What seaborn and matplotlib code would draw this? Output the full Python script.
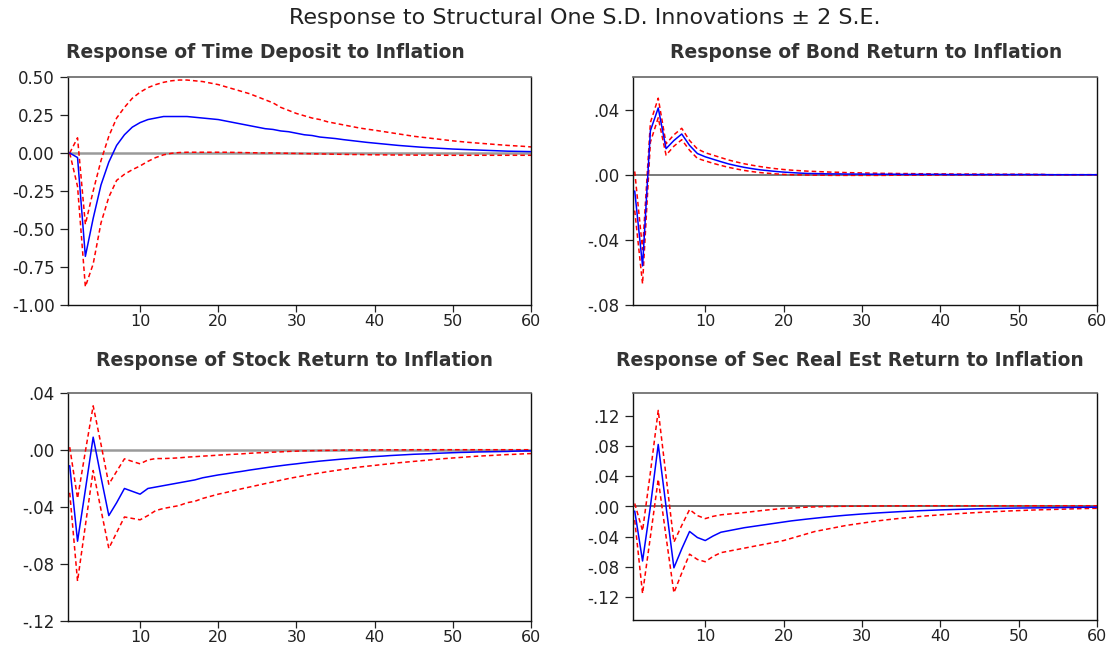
import numpy as np
import pandas as pd
import matplotlib
matplotlib.use("Agg")
import matplotlib.pyplot as plt
import seaborn as sns

periods = list(range(1, 61))

# Response of Time Deposit to Inflation
td_resp = [0.00, -0.03, -0.68, -0.43, -0.21, -0.06, 0.05, 0.12, 0.17, 0.20,
           0.22, 0.23, 0.24, 0.24, 0.24, 0.24, 0.235, 0.23, 0.225, 0.22,
           0.21, 0.20, 0.19, 0.18, 0.17, 0.16, 0.155, 0.145, 0.14, 0.13,
           0.12, 0.115, 0.105, 0.10, 0.095, 0.088, 0.082, 0.076, 0.07, 0.065,
           0.06, 0.055, 0.05, 0.046, 0.042, 0.038, 0.035, 0.032, 0.029, 0.026,
           0.024, 0.022, 0.02, 0.018, 0.016, 0.014, 0.012, 0.011, 0.01, 0.009]
td_upper = [0.00, 0.10, -0.47, -0.25, -0.05, 0.11, 0.23, 0.30, 0.36, 0.40,
            0.43, 0.45, 0.465, 0.475, 0.48, 0.48, 0.475, 0.47, 0.46, 0.45,
            0.435, 0.42, 0.405, 0.39, 0.37, 0.35, 0.33, 0.30, 0.28, 0.26,
            0.245, 0.23, 0.22, 0.205, 0.195, 0.185, 0.175, 0.165, 0.157, 0.15,
            0.142, 0.134, 0.126, 0.118, 0.11, 0.104, 0.098, 0.092, 0.086, 0.08,
            0.075, 0.07, 0.066, 0.062, 0.058, 0.054, 0.05, 0.047, 0.044, 0.04]
td_lower = [0.00, -0.22, -0.88, -0.73, -0.46, -0.29, -0.18, -0.14, -0.11, -0.085,
            -0.055, -0.03, -0.012, -0.002, 0.003, 0.005, 0.005, 0.005, 0.005, 0.005,
            0.005, 0.004, 0.003, 0.002, 0.001, 0.0, 0.0, -0.001, -0.002, -0.003,
            -0.004, -0.005, -0.006, -0.007, -0.008, -0.009, -0.010, -0.010, -0.011, -0.012,
            -0.012, -0.013, -0.013, -0.013, -0.014, -0.014, -0.014, -0.014, -0.015, -0.015,
            -0.015, -0.015, -0.015, -0.015, -0.015, -0.015, -0.015, -0.015, -0.015, -0.015]

# Response of Bond Return to Inflation
bd_resp = [-0.010, -0.056, 0.027, 0.041, 0.016, 0.021, 0.025, 0.018, 0.013, 0.011,
           0.0095, 0.008, 0.0066, 0.0055, 0.0045, 0.0037, 0.003, 0.0025, 0.002, 0.0016,
           0.0013, 0.001, 0.0008, 0.0007, 0.0006, 0.0005, 0.0005, 0.0004, 0.0004, 0.0004,
           0.0003, 0.0003, 0.0003, 0.0003, 0.0002, 0.0002, 0.0002, 0.0002, 0.0002, 0.0002,
           0.0001, 0.0001, 0.0001, 0.0001, 0.0001, 0.0001, 0.0001, 0.0001, 0.0001, 0.0001,
           0.0001, 0.0001, 0.0001, 0.0, 0.0, 0.0, 0.0, 0.0, 0.0, 0.0]
bd_upper = [0.002, -0.046, 0.032, 0.047, 0.019, 0.0245, 0.0285, 0.021, 0.0158, 0.0135,
            0.012, 0.0105, 0.009, 0.0078, 0.0067, 0.0058, 0.005, 0.0043, 0.0037, 0.0032,
            0.0028, 0.0025, 0.0022, 0.002, 0.0018, 0.0016, 0.0015, 0.0013, 0.0012, 0.0011,
            0.001, 0.0009, 0.0008, 0.0008, 0.0007, 0.0007, 0.0006, 0.0006, 0.0005, 0.0005,
            0.0005, 0.0004, 0.0004, 0.0004, 0.0004, 0.0003, 0.0003, 0.0003, 0.0003, 0.0003,
            0.0003, 0.0002, 0.0002, 0.0, 0.0, 0.0, 0.0, 0.0, 0.0, 0.0]
bd_lower = [-0.022, -0.067, 0.020, 0.035, 0.012, 0.0175, 0.0215, 0.015, 0.010, 0.0085,
            0.007, 0.0057, 0.0045, 0.0035, 0.0026, 0.0019, 0.0013, 0.0009, 0.0005, 0.0002,
            0.0, -0.0001, -0.0002, -0.0003, -0.0003, -0.0004, -0.0004, -0.0004, -0.0004, -0.0004,
            -0.0004, -0.0004, -0.0004, -0.0003, -0.0003, -0.0003, -0.0003, -0.0003, -0.0003, -0.0002,
            -0.0002, -0.0002, -0.0002, -0.0002, -0.0002, -0.0002, -0.0001, -0.0001, -0.0001, -0.0001,
            -0.0001, -0.0001, -0.0001, 0.0, 0.0, 0.0, 0.0, 0.0, 0.0, 0.0]

# Response of Stock Return to Inflation
st_resp = [-0.011, -0.064, -0.028, 0.009, -0.019, -0.046, -0.037, -0.027, -0.029, -0.031,
           -0.027, -0.026, -0.025, -0.024, -0.023, -0.022, -0.021, -0.0195, -0.0185, -0.0175,
           -0.0167, -0.0158, -0.015, -0.0141, -0.0133, -0.0125, -0.0117, -0.011, -0.0103, -0.0097,
           -0.009, -0.0084, -0.0078, -0.0073, -0.0068, -0.0063, -0.0059, -0.0054, -0.005, -0.0046,
           -0.0043, -0.0039, -0.0036, -0.0033, -0.003, -0.0028, -0.0026, -0.0023, -0.0021, -0.0019,
           -0.0017, -0.0016, -0.0014, -0.0013, -0.0012, -0.0011, -0.001, -0.0008, -0.0007, -0.0006]
st_upper = [0.002, -0.034, -0.001, 0.031, 0.004, -0.024, -0.015, -0.0062, -0.008, -0.0097,
            -0.007, -0.006, -0.006, -0.0058, -0.0055, -0.005, -0.0047, -0.0043, -0.004, -0.0036,
            -0.0033, -0.003, -0.0027, -0.0023, -0.002, -0.0018, -0.0015, -0.0013, -0.001, -0.0008,
            -0.0006, -0.0005, -0.0004, -0.0003, -0.0002, -0.0001, 0.0, 0.0, 0.0, 0.0,
            0.0001, 0.0001, 0.0001, 0.0001, 0.0002, 0.0002, 0.0002, 0.0002, 0.0002, 0.0002,
            0.0002, 0.0002, 0.0002, 0.0002, 0.0002, 0.0002, 0.0002, 0.0002, 0.0002, 0.0002]
st_lower = [-0.030, -0.092, -0.053, -0.0144, -0.042, -0.069, -0.058, -0.047, -0.048, -0.049,
            -0.046, -0.0425, -0.041, -0.040, -0.039, -0.037, -0.036, -0.034, -0.0325, -0.031,
            -0.0298, -0.0285, -0.0272, -0.026, -0.0248, -0.0236, -0.0224, -0.0212, -0.020, -0.019,
            -0.018, -0.017, -0.0161, -0.0152, -0.0144, -0.0136, -0.0128, -0.012, -0.0114, -0.0108,
            -0.0102, -0.0096, -0.009, -0.0085, -0.008, -0.0075, -0.007, -0.0065, -0.006, -0.0056,
            -0.0052, -0.0048, -0.0044, -0.0041, -0.0038, -0.0035, -0.0032, -0.003, -0.0027, -0.0025]

# Response of Sec Real Est Return to Inflation
re_resp = [-0.006, -0.072, 0.0, 0.082, 0.0, -0.081, -0.056, -0.033, -0.041, -0.045,
           -0.039, -0.034, -0.032, -0.030, -0.028, -0.0265, -0.025, -0.0235, -0.022, -0.0205,
           -0.019, -0.0178, -0.0166, -0.0155, -0.0144, -0.0134, -0.0124, -0.0115, -0.0107, -0.0099,
           -0.0092, -0.0085, -0.0079, -0.0073, -0.0067, -0.0062, -0.0057, -0.0053, -0.0049, -0.0045,
           -0.0042, -0.0039, -0.0036, -0.0033, -0.003, -0.0028, -0.0026, -0.0024, -0.0022, -0.002,
           -0.0019, -0.0018, -0.0017, -0.0016, -0.0015, -0.0013, -0.0012, -0.0011, -0.001, -0.0009]
re_upper = [0.004, -0.032, 0.045, 0.127, 0.040, -0.047, -0.025, -0.004, -0.012, -0.016,
            -0.013, -0.011, -0.010, -0.009, -0.008, -0.0068, -0.0056, -0.0045, -0.0035, -0.0026,
            -0.002, -0.0014, -0.0009, -0.0005, -0.0002, 0.0, 0.0002, 0.0003, 0.0004, 0.0005,
            0.0006, 0.0007, 0.0008, 0.0008, 0.0009, 0.0009, 0.001, 0.001, 0.001, 0.001,
            0.001, 0.001, 0.001, 0.001, 0.001, 0.001, 0.001, 0.001, 0.001, 0.001,
            0.001, 0.001, 0.001, 0.001, 0.001, 0.001, 0.001, 0.001, 0.001, 0.001]
re_lower = [-0.018, -0.115, -0.040, 0.036, -0.040, -0.114, -0.088, -0.063, -0.070, -0.073,
            -0.066, -0.061, -0.059, -0.057, -0.055, -0.053, -0.051, -0.049, -0.047, -0.045,
            -0.042, -0.039, -0.036, -0.033, -0.031, -0.029, -0.027, -0.025, -0.0235, -0.022,
            -0.0205, -0.019, -0.0178, -0.0166, -0.0155, -0.0145, -0.0135, -0.0126, -0.0118, -0.011,
            -0.0103, -0.0096, -0.009, -0.0084, -0.0078, -0.0073, -0.0068, -0.0063, -0.0058, -0.0054,
            -0.005, -0.0046, -0.0043, -0.004, -0.0037, -0.0034, -0.0031, -0.0028, -0.0026, -0.0024]

panel_titles = ["Response of Time Deposit to Inflation",
                "Response of Bond Return to Inflation",
                "Response of Stock Return to Inflation",
                "Response of Sec Real Est Return to Inflation"]
main_title = "Response to Structural One S.D. Innovations \u00b1 2 S.E."

x_ticks = [10, 20, 30, 40, 50, 60]
td_yticks = [0.50, 0.25, 0.00, -0.25, -0.50, -0.75, -1.00]
td_ylabels = ["0.50", "0.25", "0.00", "-0.25", "-0.50", "-0.75", "-1.00"]
bd_yticks = [0.04, 0.00, -0.04, -0.08]
bd_ylabels = [".04", ".00", "-.04", "-.08"]
st_yticks = [0.04, 0.00, -0.04, -0.08, -0.12]
st_ylabels = [".04", ".00", "-.04", "-.08", "-.12"]
re_yticks = [0.12, 0.08, 0.04, 0.00, -0.04, -0.08, -0.12]
re_ylabels = [".12", ".08", ".04", ".00", "-.04", "-.08", "-.12"]

sns.set_theme(style="ticks")
plt.rcParams['font.family'] = ['DejaVu Sans']

fig = plt.figure(figsize=(11.13, 6.49), dpi=100)
W, H = 1113, 649

def make_ax(left, top, right, bottom):
    return fig.add_axes([left / W, 1 - bottom / H, (right - left) / W, (bottom - top) / H])

axes = [make_ax(68, 77, 531, 305), make_ax(633, 77, 1097, 305),
        make_ax(68, 393, 531, 621), make_ax(633, 393, 1097, 620)]

panels = [
    (td_resp, td_upper, td_lower, (-1.0, 0.5), td_yticks, td_ylabels, '#9a9a9a', 1.8),
    (bd_resp, bd_upper, bd_lower, (-0.08, 0.06), bd_yticks, bd_ylabels, '#555555', 1.1),
    (st_resp, st_upper, st_lower, (-0.12, 0.04), st_yticks, st_ylabels, '#9a9a9a', 1.8),
    (re_resp, re_upper, re_lower, (-0.15, 0.15), re_yticks, re_ylabels, '#444444', 1.1),
]

for ax, (resp, up, lo, ylim, yt, yl, zc, zw) in zip(axes, panels):
    ax.axhline(0, color=zc, lw=zw, zorder=1)
    sns.lineplot(x=periods, y=resp, ax=ax, color='#0000ff', lw=1.1, zorder=3)
    sns.lineplot(x=periods, y=up, ax=ax, color='#ff0000', lw=1.1, zorder=2,
                 dashes=False).lines[-1].set_dashes((3, 2))
    sns.lineplot(x=periods, y=lo, ax=ax, color='#ff0000', lw=1.1, zorder=2,
                 dashes=False).lines[-1].set_dashes((3, 2))
    ax.set_xlim(0.78, 60)
    ax.set_ylim(*ylim)
    ax.set_xticks(x_ticks)
    ax.set_xticklabels([str(t) for t in x_ticks])
    ax.set_yticks(yt)
    ax.set_yticklabels(yl)
    ax.tick_params(axis='y', direction='out', length=5.5, width=0.9,
                   labelsize=12, colors='#222222', pad=4)
    ax.tick_params(axis='x', direction='out', length=5, width=0.9,
                   labelsize=11.5, colors='#222222', pad=1.5)
    for s in ['left', 'bottom', 'right']:
        ax.spines[s].set_color('#111111')
        ax.spines[s].set_linewidth(1.0)
        ax.spines[s].set_visible(True)
    ax.spines['top'].set_visible(True)
    ax.spines['top'].set_color('#666666')
    ax.spines['top'].set_linewidth(1.2)
    ax.set_xlabel('')
    ax.set_ylabel('')

title_pos = [(265, 52), (866, 52), (295, 361), (850, 361)]
for (tx, ty), t in zip(title_pos, panel_titles):
    fig.text(tx / W, 1 - ty / H, t, ha='center', va='center',
             fontsize=13.5, fontweight='bold', color='#333333', family=['DejaVu Sans'])

fig.text(585 / W, 1 - 18 / H, main_title, ha='center', va='center',
         fontsize=16, color='#222222', family=['DejaVu Sans'])

fig.savefig('out.png', dpi=100)
